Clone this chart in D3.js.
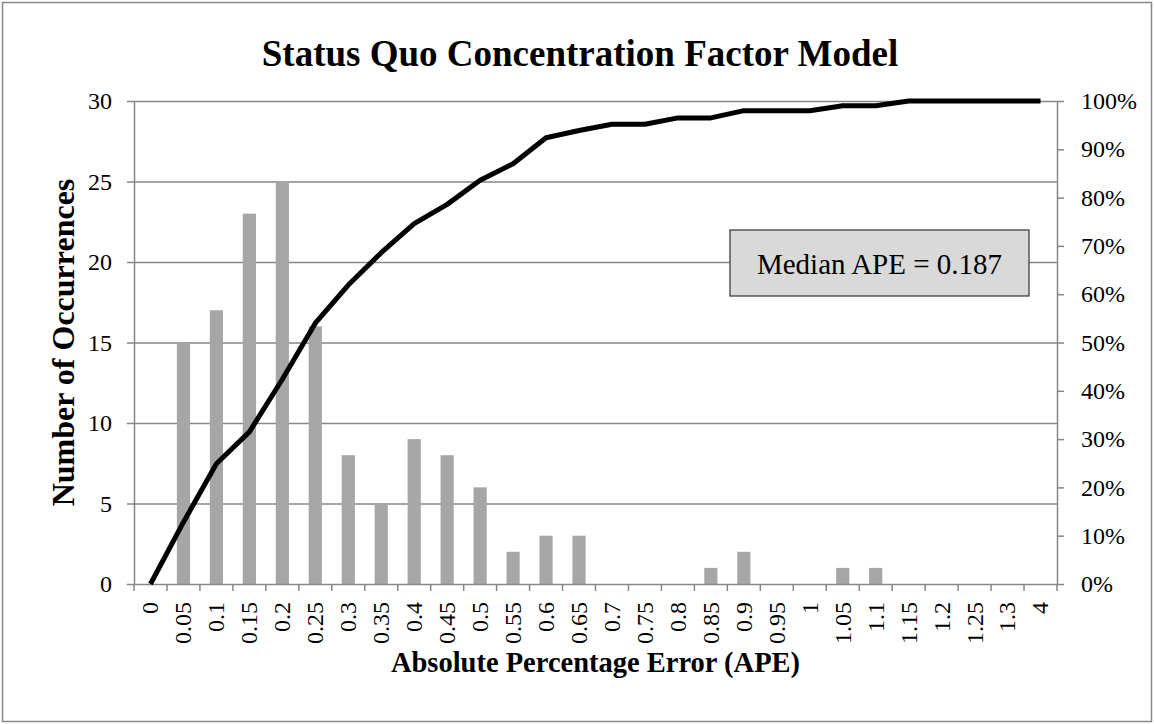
<!DOCTYPE html>
<html>
<head>
<meta charset="utf-8">
<script src="https://cdn.jsdelivr.net/npm/d3@7"></script>
<style>
    body { margin: 0; background: #fff; }
    svg text { font-family: "Liberation Serif", "Times New Roman", serif; fill: #000; }
</style>
</head>
<body>
<div class="content"></div>
<script>
// categories along the x axis (APE bins)
let categories = ['0', '0.05', '0.1', '0.15', '0.2', '0.25', '0.3', '0.35', '0.4', '0.45', '0.5',
    '0.55', '0.6', '0.65', '0.7', '0.75', '0.8', '0.85', '0.9', '0.95', '1', '1.05', '1.1',
    '1.15', '1.2', '1.25', '1.3', '4'];

// number of occurrences per bin (bars)
let occurrences = [0, 15, 17, 23, 25, 16, 8, 5, 9, 8, 6, 2, 3, 3, 0, 0, 0, 1, 2, 0, 0, 1, 1, 0, 0, 0, 0, 0];

// cumulative percentage (line)
let cumulative = [0, 12.8, 24.9, 31.5, 42.4, 54.0, 61.9, 68.6, 74.6, 78.6, 83.6, 87.0, 92.4, 93.9,
    95.2, 95.2, 96.5, 96.5, 98.0, 98.0, 98.0, 99.0, 99.0, 100, 100, 100, 100, 100];

let leftTicks = [0, 5, 10, 15, 20, 25, 30];
let rightTicks = [0, 10, 20, 30, 40, 50, 60, 70, 80, 90, 100];

(function () {
    let W = 1154, H = 724;
    let plot = {left: 134, right: 1057, top: 101, bottom: 584};

    let svg = d3.select('.content').append('svg')
        .attr('width', W)
        .attr('height', H);

    // chart border
    svg.append('rect')
        .attr('x', 2.5).attr('y', 2.5)
        .attr('width', W - 5).attr('height', H - 5)
        .attr('fill', '#fff')
        .attr('stroke', '#898989')
        .attr('stroke-width', 1.5);

    let xScale = d3.scaleBand()
        .domain(categories)
        .range([plot.left, plot.right])
        .paddingInner(0).paddingOuter(0);

    let yLeft = d3.scaleLinear().domain([0, 30]).range([plot.bottom, plot.top]);
    let yRight = d3.scaleLinear().domain([0, 100]).range([plot.bottom, plot.top]);

    let bw = xScale.bandwidth();
    let barW = bw / 2.5;

    // horizontal grid lines
    svg.append('g')
        .selectAll('line')
        .data(leftTicks.slice(1))
        .enter()
        .append('line')
        .attr('x1', plot.left).attr('x2', plot.right)
        .attr('y1', d => yLeft(d) + 0.5).attr('y2', d => yLeft(d) + 0.5)
        .attr('stroke', '#868686')
        .attr('stroke-width', 1.5);

    // bars
    svg.append('g')
        .selectAll('rect')
        .data(categories.map((c, i) => ({c: c, v: occurrences[i]})).filter(d => d.v > 0))
        .enter()
        .append('rect')
        .attr('x', d => xScale(d.c) + (bw - barW) / 2)
        .attr('y', d => yLeft(d.v))
        .attr('width', barW)
        .attr('height', d => yLeft(0) - yLeft(d.v))
        .attr('fill', '#a6a6a6');

    // left axis
    let gL = svg.append('g')
        .attr('transform', 'translate(' + plot.left + ',0)')
        .call(d3.axisLeft(yLeft).tickValues(leftTicks).tickSizeInner(7).tickSizeOuter(0).tickPadding(15));

    // right axis
    let gR = svg.append('g')
        .attr('transform', 'translate(' + plot.right + ',0)')
        .call(d3.axisRight(yRight).tickValues(rightTicks).tickSizeInner(7).tickSizeOuter(0).tickPadding(17)
            .tickFormat(d => d + '%'));

    // bottom axis: ticks on band edges, labels on band centers
    let gX = svg.append('g')
        .attr('transform', 'translate(0,' + plot.bottom + ')')
        .call(d3.axisBottom(xScale).tickSize(0).tickPadding(0));

    gX.selectAll('.tick text')
        .attr('transform', 'rotate(-90)')
        .attr('text-anchor', 'end')
        .attr('x', -18)
        .attr('y', 0)
        .attr('dy', '0.33em');

    let edges = categories.map(c => xScale(c)).concat([plot.right]);
    svg.append('g')
        .selectAll('line')
        .data(edges)
        .enter()
        .append('line')
        .attr('x1', d => d).attr('x2', d => d)
        .attr('y1', plot.bottom).attr('y2', plot.bottom + 7)
        .attr('stroke', '#868686')
        .attr('stroke-width', 1.5);

    [gL, gR, gX].forEach(function (g) {
        g.selectAll('.domain').attr('stroke', '#868686').attr('stroke-width', 1.5);
        g.selectAll('.tick line').attr('stroke', '#868686').attr('stroke-width', 1.5);
        g.selectAll('.tick text')
            .attr('font-family', '"Liberation Serif", "Times New Roman", serif')
            .attr('font-size', 24)
            .attr('fill', '#000');
    });

    // cumulative line
    let line = d3.line()
        .x((d, i) => xScale(categories[i]) + bw / 2)
        .y(d => yRight(d));

    svg.append('path')
        .datum(cumulative)
        .attr('fill', 'none')
        .attr('stroke', '#000')
        .attr('stroke-width', 5)
        .attr('stroke-linejoin', 'round')
        .attr('d', line);

    // median annotation
    svg.append('rect')
        .attr('x', 730).attr('y', 230)
        .attr('width', 299).attr('height', 66)
        .attr('fill', '#d9d9d9')
        .attr('stroke', '#333')
        .attr('stroke-width', 1.2);
    svg.append('text')
        .attr('x', 879.5).attr('y', 274)
        .attr('text-anchor', 'middle')
        .attr('font-size', 29)
        .text('Median APE = 0.187');

    // titles
    svg.append('text')
        .attr('x', 580).attr('y', 66)
        .attr('text-anchor', 'middle')
        .attr('font-size', 37)
        .attr('font-weight', 'bold')
        .text('Status Quo Concentration Factor Model');

    svg.append('text')
        .attr('x', (plot.left + plot.right) / 2).attr('y', 672)
        .attr('text-anchor', 'middle')
        .attr('font-size', 28.5)
        .attr('font-weight', 'bold')
        .text('Absolute Percentage Error (APE)');

    svg.append('text')
        .attr('transform', 'translate(74,' + (plot.top + plot.bottom) / 2 + ') rotate(-90)')
        .attr('text-anchor', 'middle')
        .attr('font-size', 32)
        .attr('font-weight', 'bold')
        .text('Number of Occurrences');
})();
</script>
</body>
</html>
